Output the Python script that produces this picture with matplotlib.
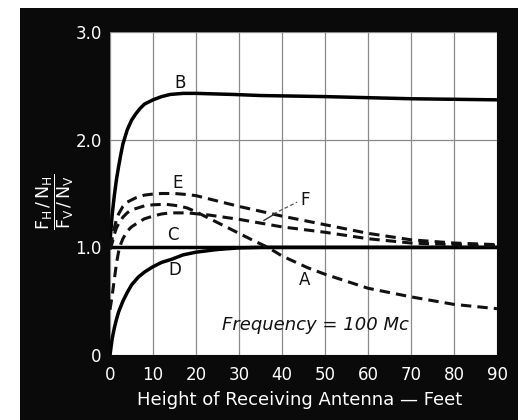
import matplotlib
matplotlib.use("Agg")
import matplotlib.pyplot as plt

# ---- data ----
xB = [0, 0.5, 1, 1.5, 2, 2.5, 3, 4, 5, 6, 7, 8, 10, 12, 14, 17, 20, 28.6, 35, 50, 60, 70, 80, 90]
yB = [1.05, 1.30, 1.48, 1.63, 1.75, 1.86, 1.96, 2.09, 2.18, 2.24, 2.29, 2.33, 2.37, 2.40, 2.42, 2.43, 2.43,
      2.42, 2.41, 2.40, 2.39, 2.38, 2.375, 2.37]

xC = [0, 90]
yC = [1.0, 1.0]

xD = [0, 0.5, 1, 1.5, 2, 3, 4, 5, 6.5, 8, 10, 12, 14.4, 17, 20, 25, 30, 35, 90]
yD = [0, 0.15, 0.25, 0.33, 0.40, 0.50, 0.58, 0.65, 0.72, 0.77, 0.82, 0.86, 0.89, 0.93, 0.955, 0.98, 0.995, 1.0, 1.0]

xE = [0, 0.5, 1, 1.5, 2, 3, 4, 5, 6, 8, 10, 12, 15, 18, 20, 23, 30, 40, 50, 60, 70, 80, 90]
yE = [1.0, 1.08, 1.18, 1.26, 1.31, 1.38, 1.42, 1.44, 1.46, 1.485, 1.495, 1.50, 1.50, 1.49, 1.48, 1.45,
      1.38, 1.29, 1.21, 1.13, 1.07, 1.04, 1.025]

xA = [0, 0.5, 1, 1.5, 2, 3, 4, 5, 6, 8, 10, 13, 16, 18, 20, 23, 26, 30, 33, 36.7, 40, 46, 50, 60, 70, 80, 90]
yA = [0.98, 1.04, 1.12, 1.18, 1.22, 1.28, 1.32, 1.35, 1.36, 1.385, 1.395, 1.40, 1.385, 1.365, 1.33, 1.27,
      1.21, 1.13, 1.07, 1.0, 0.92, 0.81, 0.75, 0.62, 0.54, 0.47, 0.43]

xF = [0, 0.5, 1, 1.5, 2, 2.5, 3, 4, 5, 6.5, 8, 10, 12, 14, 18, 23, 30, 40, 50, 60, 70, 80, 90]
yF = [0.42, 0.55, 0.70, 0.85, 0.96, 1.03, 1.08, 1.15, 1.19, 1.23, 1.265, 1.29, 1.31, 1.32, 1.32, 1.30,
      1.26, 1.19, 1.14, 1.08, 1.04, 1.025, 1.015]

xticks = [0, 10, 20, 30, 40, 50, 60, 70, 80, 90]
xticklabels = ["0", "10", "20", "30", "40", "50", "60", "70", "80", "90"]
yticks = [0, 1.0, 2.0, 3.0]
yticklabels = ["0", "1.0", "2.0", "3.0"]

# ---- figure ----
fig = plt.figure(figsize=(5.2, 4.2), dpi=100)
fig.patch.set_facecolor("white")

bg = fig.add_axes([20 / 520, 0, (518 - 20) / 520, 1 - 8 / 420])
bg.set_facecolor("#0a0a0a")
bg.set_xticks([])
bg.set_yticks([])
for s in bg.spines.values():
    s.set_visible(False)
bg.set_zorder(0)

ax = fig.add_axes([110 / 520, 1 - 355 / 420, (497 - 110) / 520, (355 - 32) / 420])
ax.set_zorder(1)
ax.set_facecolor("white")
ax.set_xlim(0, 90)
ax.set_ylim(0, 3.0)

ax.set_xticks(xticks)
ax.set_xticklabels(xticklabels)
ax.set_yticks(yticks)
ax.set_yticklabels(yticklabels)
ax.tick_params(axis="both", length=0, colors="white", labelsize=12)
ax.tick_params(axis="x", pad=8)
ax.tick_params(axis="y", pad=6)
for s in ax.spines.values():
    s.set_visible(False)

ax.grid(True, color="#8a8a8a", linewidth=0.9)
ax.set_axisbelow(True)

solid = dict(color="black", linewidth=2.5, solid_capstyle="round", solid_joinstyle="round")
dashed = dict(color="#111111", linewidth=2.2, dashes=(3.4, 2.0), dash_joinstyle="round")

ax.plot(xB, yB, **solid)
ax.plot(xC, yC, **solid)
ax.plot(xD, yD, **solid)
ax.plot(xE, yE, **dashed)
ax.plot(xA, yA, **dashed)
ax.plot(xF, yF, **dashed)

lab = dict(fontsize=12, color="#111111", ha="center", va="center")
ax.text(16.3, 2.53, "B", **lab)
ax.text(15.6, 1.60, "E", **lab)
ax.text(14.7, 1.11, "C", **lab)
ax.text(15.0, 0.79, "D", **lab)
ax.text(45.3, 0.70, "A", **lab)
ax.text(45.3, 1.44, "F", **lab)
ax.plot([38.0, 43.5], [1.31, 1.42], color="#555555", linewidth=0.9, dashes=(3, 2))
ax.plot([35.8, 38.3], [1.25, 1.31], color="#333333", linewidth=1.0)

ax.text(26, 0.28, "Frequency = 100 Mc", fontsize=13, style="italic",
        color="#111111", ha="left", va="center")

fig.text(300 / 520, 1 - 400 / 420, "Height of Receiving Antenna — Feet",
         fontsize=13, color="white", ha="center", va="center", zorder=3)
fig.text(55 / 520, 1 - 202 / 420, r"$\dfrac{\mathrm{F_H\,/\,N_H}}{\mathrm{F_V\,/\,N_V}}$",
         fontsize=12.5, color="white", rotation=90, ha="center", va="center", zorder=3)

fig.savefig("out.png", dpi=100, facecolor=fig.get_facecolor())
